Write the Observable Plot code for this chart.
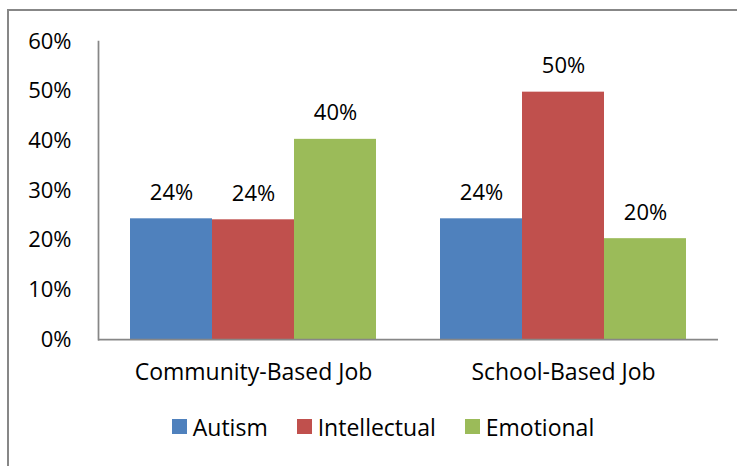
<!DOCTYPE html>
<html><head><meta charset="utf-8">
<script src="https://cdn.jsdelivr.net/npm/d3@7"></script>
<script src="https://cdn.jsdelivr.net/npm/@observablehq/plot@0.6"></script>
<style>
html,body{margin:0;padding:0;background:#fff;}
body{width:737px;height:466px;overflow:hidden;position:relative;font-family:"Open Sans",sans-serif;}
#border{position:absolute;left:7px;top:9px;width:800px;height:600px;border-left:2px solid #878787;border-top:2px solid #878787;}
#chart{position:absolute;left:0;top:0;}
#legend{position:absolute;left:0;top:410px;width:766px;}
#legend div{justify-content:center !important;font-family:"Open Sans",sans-serif !important;font-size:23px !important;color:#000 !important;margin:0 !important;min-height:33px !important;}
#legend span{margin-right:29px !important;}
#legend span:last-child{margin-right:0 !important;}
#legend span > svg{margin-right:6px !important;}
</style></head><body>
<div id="border"></div><div id="chart"></div><div id="legend"></div>
<script>
const categories = ["Community-Based Job", "School-Based Job"];
const series = ["Autism", "Intellectual", "Emotional"];
const autism = [0.243, 0.243];
const intellectual = [0.241, 0.498];
const emotional = [0.403, 0.203];
const colors = ["#4F81BD", "#C0504D", "#9BBB59"];
const yTicks = [0, 0.1, 0.2, 0.3, 0.4, 0.5, 0.6];

const valuesBySeries = [autism, intellectual, emotional];
const data = categories.flatMap((c, i) => series.map((s, j) => ({category: c, series: s, value: valuesBySeries[j][i]})));
const pct = d3.format(".0%");
const axisColor = "#878787";

const plot = Plot.plot({
  width: 737, height: 400,
  marginLeft: 97, marginRight: 19, marginTop: 41, marginBottom: 61,
  style: {fontFamily: "'Open Sans', sans-serif", fontSize: "22px", color: "#000", background: "transparent", overflow: "visible"},
  fx: {domain: categories, paddingInner: 0.2, paddingOuter: 0.1, label: null},
  x: {domain: series, padding: 0, axis: null},
  y: {domain: [0, 0.6], axis: null},
  color: {domain: series, range: colors},
  marks: [
    Plot.barY(data, {fx: "category", x: "series", y: "value", fill: "series"}),
    Plot.text(data, {fx: "category", x: "series", y: "value", text: d => pct(Math.round(d.value * 100) / 100), dy: -26, fill: "#000"}),
    Plot.axisY({ticks: yTicks, tickFormat: d3.format(".0%"), tickSize: 0, tickPadding: 58, label: null, fill: "#000"}),
    Plot.axisFx({anchor: "bottom", tickSize: 0, tickPadding: 24, label: null, fill: "#000", fontSize: 23}),
    Plot.ruleY([0], {insetLeft: -31, insetRight: -31, stroke: axisColor, strokeWidth: 1.75}),
    Plot.frame({anchor: "left", facetAnchor: "left", dx: -31, stroke: axisColor, strokeWidth: 1.75})
  ]
});
document.getElementById("chart").appendChild(plot);

const legend = Plot.legend({
  color: {domain: series, range: colors},
  legend: "swatches",
  swatchSize: 15,
  className: "lg"
});
document.getElementById("legend").appendChild(legend);
</script>
</body></html>
